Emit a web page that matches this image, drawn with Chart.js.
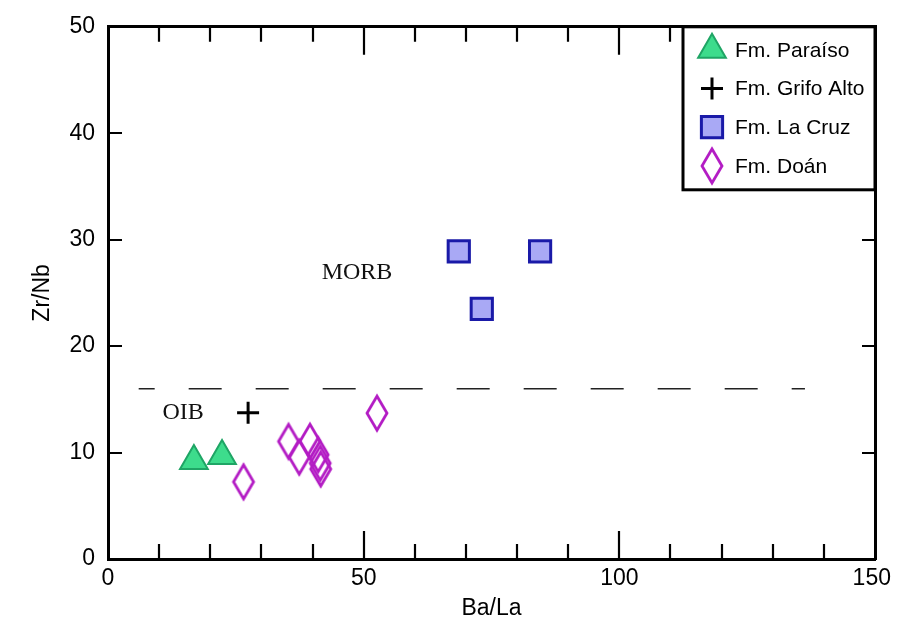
<!DOCTYPE html>
<html>
<head>
<meta charset="utf-8">
<script src="https://cdn.jsdelivr.net/npm/chart.js@4/dist/chart.umd.min.js"></script>
<style>
  html, body { margin: 0; padding: 0; background: #fff; }
  #wrap { width: 904px; height: 631px; }
</style>
</head>
<body>
<div id="wrap"><canvas id="chart-zrnb"></canvas></div>
<script>
// values
var paraisoX = [16.8, 22.3];
var paraisoY = [9.2, 9.67];
var grifoX = [27.4];
var grifoY = [13.75];
var cruzX = [68.6, 84.5, 73.1];
var cruzY = [28.9, 28.9, 23.5];
var doanX = [26.5, 35.3, 37.4, 39.5, 41.1, 41.5, 41.6, 52.6];
var doanY = [7.25, 11.05, 9.57, 11.06, 9.8, 9.0, 8.45, 13.7];
var dividerX = [6, 136.3];
var dividerY = [16, 16];
var fieldNames = ["MORB", "OIB"];
var fieldX = [48.7, 14.7];
var fieldY = [26.9, 13.7];
var xLabelTicks = [0, 50, 100, 150];
var yLabelTicks = [0, 10, 20, 30, 40, 50];

function pts(xs, ys) {
  return xs.map(function (x, i) { return { x: x, y: ys[i] }; });
}

// tall diamond marker (Chart.js rectRot is square)
var diamond = document.createElement("canvas");
diamond.width = 28;
diamond.height = 42;
(function () {
  var c = diamond.getContext("2d");
  c.strokeStyle = "#b31cc4";
  c.lineWidth = 2.8;
  c.beginPath();
  c.moveTo(14, 4);
  c.lineTo(24, 21);
  c.lineTo(14, 38);
  c.lineTo(4, 21);
  c.closePath();
  c.stroke();
})();

var SANS = "'Liberation Sans', Arial, sans-serif";

// inward tick marks on all four sides
var frameTicks = {
  id: "frameTicks",
  beforeDatasetsDraw: function (chart) {
    var ctx = chart.ctx, a = chart.chartArea;
    var xs = chart.scales.x, ys = chart.scales.y;
    ctx.save();
    ctx.strokeStyle = "#000";
    ctx.lineWidth = 2.2;
    xs.ticks.forEach(function (t) {
      if (t.value <= xs.min || t.value >= xs.max) return;
      var px = Math.round(xs.getPixelForValue(t.value));
      var len = t.value % 50 === 0 ? 28 : 15;
      ctx.beginPath();
      ctx.moveTo(px, a.bottom);
      ctx.lineTo(px, a.bottom - len);
      ctx.moveTo(px, a.top);
      ctx.lineTo(px, a.top + len);
      ctx.stroke();
    });
    ys.ticks.forEach(function (t) {
      if (t.value <= ys.min || t.value >= ys.max) return;
      var py = Math.round(ys.getPixelForValue(t.value));
      ctx.beginPath();
      ctx.moveTo(a.left, py);
      ctx.lineTo(a.left + 14, py);
      ctx.moveTo(a.right, py);
      ctx.lineTo(a.right - 13, py);
      ctx.stroke();
    });
    ctx.restore();
  }
};

// MORB / OIB field names
var fieldText = {
  id: "fieldText",
  afterDatasetsDraw: function (chart) {
    var ctx = chart.ctx;
    ctx.save();
    ctx.fillStyle = "#111";
    ctx.font = "24px 'Liberation Serif', 'Times New Roman', serif";
    ctx.textAlign = "center";
    ctx.textBaseline = "middle";
    fieldNames.forEach(function (name, i) {
      ctx.fillText(name, chart.scales.x.getPixelForValue(fieldX[i]), chart.scales.y.getPixelForValue(fieldY[i]));
    });
    ctx.restore();
  }
};

// boxed legend in the upper right corner
var boxLegend = {
  id: "boxLegend",
  afterDraw: function (chart) {
    var ctx = chart.ctx, a = chart.chartArea;
    var left = a.right - 192, top = a.top, w = 192, h = 163;
    ctx.save();
    ctx.fillStyle = "#fff";
    ctx.fillRect(left, top, w, h);
    ctx.strokeStyle = "#000";
    ctx.lineWidth = 3;
    ctx.strokeRect(left, top, w, h);
    ctx.font = "21px " + SANS;
    ctx.textBaseline = "middle";
    var row = 0;
    chart.data.datasets.forEach(function (ds) {
      if (!ds.label) return;
      var cy = top + 23 + row * 38.7;
      var cx = left + 29;
      ctx.fillStyle = ds.backgroundColor;
      ctx.strokeStyle = ds.borderColor;
      ctx.lineWidth = ds.borderWidth;
      Chart.helpers.drawPoint(ctx, {
        pointStyle: ds.pointStyle,
        rotation: 0,
        radius: ds.pointRadius,
        borderWidth: ds.borderWidth
      }, cx, cy);
      ctx.fillStyle = "#000";
      ctx.fillText(ds.label, left + 52, cy + 1);
      row++;
    });
    ctx.restore();
  }
};

var tickFont = { size: 23, family: SANS };

new Chart(document.getElementById("chart-zrnb"), {
  type: "scatter",
  data: {
    datasets: [
      {
        label: "Fm. Paraíso",
        data: pts(paraisoX, paraisoY),
        pointStyle: "triangle",
        pointRadius: 16,
        borderWidth: 2,
        backgroundColor: "#3ddc8c",
        borderColor: "#1fa565"
      },
      {
        label: "Fm. Grifo Alto",
        data: pts(grifoX, grifoY),
        pointStyle: "cross",
        pointRadius: 11,
        borderWidth: 3,
        backgroundColor: "#000",
        borderColor: "#000"
      },
      {
        label: "Fm. La Cruz",
        data: pts(cruzX, cruzY),
        pointStyle: "rect",
        pointRadius: 15,
        borderWidth: 3,
        backgroundColor: "#a9a9f5",
        borderColor: "#1a1aa8"
      },
      {
        label: "Fm. Doán",
        data: pts(doanX, doanY),
        pointStyle: diamond,
        pointRadius: 14,
        borderWidth: 0,
        backgroundColor: "rgba(0,0,0,0)",
        borderColor: "#b31cc4"
      },
      {
        data: pts(dividerX, dividerY),
        showLine: true,
        pointRadius: 0,
        borderColor: "#222",
        borderWidth: 1.5,
        borderDash: [33, 34],
        borderDashOffset: 17
      }
    ]
  },
  options: {
    responsive: true,
    maintainAspectRatio: false,
    animation: false,
    layout: { padding: 0 },
    plugins: {
      legend: { display: false },
      tooltip: { enabled: false }
    },
    scales: {
      x: {
        type: "linear",
        position: "bottom",
        min: 0,
        max: 150,
        afterFit: function (s) { s.height = 72; },
        grid: { display: false, drawTicks: false },
        border: { display: true, color: "#000", width: 3 },
        ticks: {
          stepSize: 10,
          autoSkip: false,
          maxRotation: 0,
          padding: 6,
          color: "#000",
          font: tickFont,
          callback: function (v) {
            if (xLabelTicks.indexOf(v) < 0) return "";
            // last label sits a little inside the frame edge
            return v === 150 ? "150 " : String(v);
          }
        },
        title: {
          display: true,
          text: "Ba/La",
          color: "#000",
          font: { size: 23, family: SANS },
          padding: { top: 0, bottom: 9 }
        }
      },
      y: {
        type: "linear",
        position: "left",
        min: 0,
        max: 50,
        afterFit: function (s) { s.width = 108; },
        grid: { display: false, drawTicks: false },
        border: { display: true, color: "#000", width: 3 },
        ticks: {
          stepSize: 10,
          autoSkip: false,
          padding: 13,
          color: "#000",
          font: tickFont,
          callback: function (v) { return yLabelTicks.indexOf(v) >= 0 ? String(v) : ""; }
        },
        title: {
          display: true,
          text: "Zr/Nb",
          color: "#000",
          font: { size: 23, family: SANS },
          padding: { top: 29, bottom: 0 }
        }
      },
      xTop: {
        type: "linear",
        position: "top",
        min: 0,
        max: 150,
        afterFit: function (s) { s.height = 21; },
        grid: { display: false, drawTicks: false },
        border: { display: true, color: "#000", width: 3 },
        ticks: { display: false }
      },
      yRight: {
        type: "linear",
        position: "right",
        min: 0,
        max: 50,
        afterFit: function (s) { s.width = 29; },
        grid: { display: false, drawTicks: false },
        border: { display: true, color: "#000", width: 3 },
        ticks: { display: false }
      }
    }
  },
  plugins: [frameTicks, fieldText, boxLegend]
});
</script>
</body>
</html>
